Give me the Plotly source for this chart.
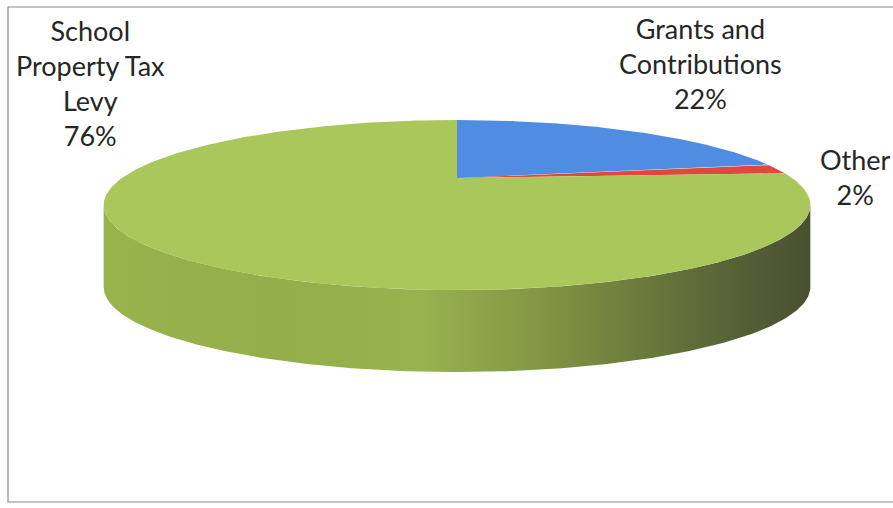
import math
import plotly.graph_objects as go

# ---- data ----
categories = ["Grants and Contributions", "Other", "School Property Tax Levy"]
values = [22, 2, 76]
label_lines = [["Grants and", "Contributions"], ["Other"], ["School", "Property Tax", "Levy"]]
top_colors = ["#4f8de2", "#e0483e", "#a9c75a"]

# ---- layout of the 3D pie (pixel space) ----
W, H = 893, 508
CX, CY = 457, 178       # projected centre of the top face
A, B, K = 335, 76.4, 0.318  # horizontal / vertical radius, perspective
DEPTH = 82
label_pos = [(700, 63), (855, 177), (90, 83)]


def proj(theta_deg, drop=0.0):
    t = math.radians(theta_deg)
    u, v = math.sin(t), math.cos(t)
    w = 1 + K * v
    return CX + A * u / w, CY - B * v / w + drop


def arc(a0, a1, drop=0.0, n=240):
    xs, ys = [], []
    for i in range(n + 1):
        th = a0 + (a1 - a0) * i / n
        x, y = proj(th, drop)
        xs.append(x)
        ys.append(y)
    return xs, ys


total = sum(values)
angles = []
acc = 0.0
for v in values:
    a0 = acc / total * 360
    acc += v
    a1 = acc / total * 360
    angles.append((a0, a1))

fig = go.Figure()

# side wall (only the front-facing part is visible)
s0 = math.degrees(math.acos(-K))
s1 = 360 - s0
for (a0, a1), col in zip(angles, top_colors):
    lo, hi = max(a0, s0), min(a1, s1)
    if lo >= hi:
        continue
    tx, ty = arc(lo, hi)
    bx, by = arc(hi, lo, DEPTH)
    fig.add_trace(go.Scatter(
        x=tx + bx + [tx[0]], y=ty + by + [ty[0]],
        mode="lines", line=dict(width=0), fill="toself",
        fillgradient=dict(type="horizontal", colorscale=[
            [0.0, "rgb(152,178,76)"],
            [0.25, "rgb(148,174,74)"],
            [0.45, "rgb(152,178,78)"],
            [0.62, "rgb(130,150,68)"],
            [0.77, "rgb(106,120,60)"],
            [0.9, "rgb(86,96,54)"],
            [1.0, "rgb(72,80,48)"],
        ]),
        hoverinfo="skip", showlegend=False,
    ))

# top faces
for (a0, a1), col in zip(angles, top_colors):
    ax, ay = arc(a0, a1)
    fig.add_trace(go.Scatter(
        x=[CX] + ax + [CX], y=[CY] + ay + [CY],
        mode="lines", line=dict(width=0, color=col), fill="toself",
        fillcolor=col, hoverinfo="skip", showlegend=False,
    ))

# data labels
for name_lines, v, (lx, ly) in zip(label_lines, values, label_pos):
    txt = "<br>".join(name_lines + [f"{round(v / total * 100)}%"])
    fig.add_annotation(x=lx, y=ly, text=txt, showarrow=False,
                       xanchor="center", yanchor="middle", align="center",
                       font=dict(family="Lato", size=27, color="#262626"))

# chart border
fig.add_shape(type="rect", x0=8, y0=7, x1=W + 20, y1=502,
              line=dict(color="#8a8a8a", width=1.2), layer="below")

fig.update_layout(
    width=W, height=H,
    margin=dict(l=0, r=0, t=0, b=0),
    paper_bgcolor="white", plot_bgcolor="white",
    xaxis=dict(range=[0, W], visible=False, fixedrange=True),
    yaxis=dict(range=[H, 0], visible=False, fixedrange=True),
    showlegend=False,
)

fig.write_html("out.html")
